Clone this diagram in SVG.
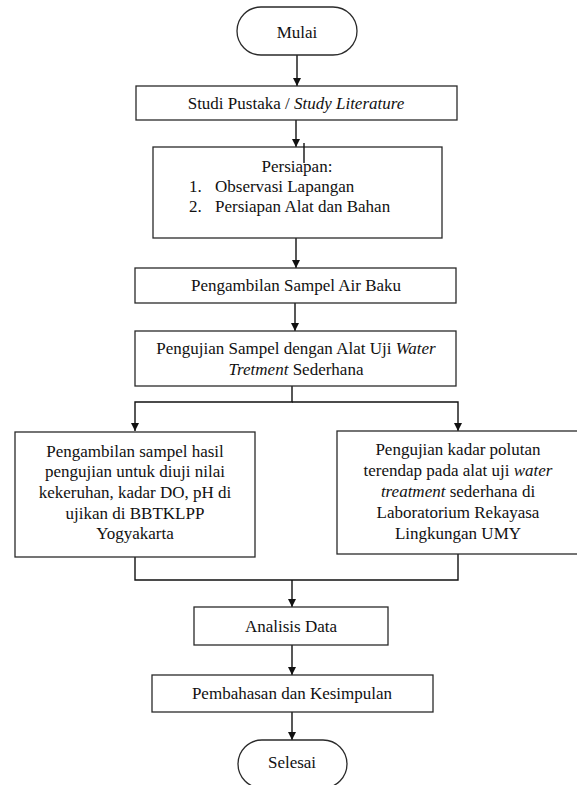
<svg xmlns="http://www.w3.org/2000/svg" width="577" height="785" viewBox="0 0 577 785">
<defs>
<style>
.box{fill:#fff;stroke:#2a2a2a;stroke-width:1.3}
.ln{fill:none;stroke:#111;stroke-width:1.4}
.t{font-family:'Liberation Serif','DejaVu Serif',serif;font-size:17px;fill:#111}
.c{text-anchor:middle}
.i{font-style:italic}
</style>
<marker id="ah" viewBox="0 0 10 10" refX="10" refY="5" markerWidth="8" markerHeight="8" markerUnits="userSpaceOnUse" orient="auto">
<path d="M0,0 L10,5 L0,10 z" fill="#111"/>
</marker>
</defs>
<rect width="577" height="785" fill="#fff"/>
<g id="connectors">
<line class="ln" x1="297" y1="55" x2="297" y2="86" marker-end="url(#ah)"/>
<line class="ln" x1="296" y1="120" x2="296" y2="147" marker-end="url(#ah)"/>
<line class="ln" x1="296" y1="238" x2="296" y2="268" marker-end="url(#ah)"/>
<line class="ln" x1="295" y1="303" x2="295" y2="331" marker-end="url(#ah)"/>
<polyline class="ln" points="292,386 292,402 135,402 135,431" marker-end="url(#ah)"/>
<polyline class="ln" points="292,402 458,402 458,431" marker-end="url(#ah)"/>
<polyline class="ln" points="135,557 135,580 458,580 458,554"/>
<line class="ln" x1="292" y1="580" x2="292" y2="607" marker-end="url(#ah)"/>
<line class="ln" x1="292" y1="645" x2="292" y2="675" marker-end="url(#ah)"/>
<line class="ln" x1="292" y1="712" x2="292" y2="740" marker-end="url(#ah)"/>
</g>
<g class="t" font-family="Liberation Serif, DejaVu Serif, serif">
<g id="mulai">
<rect class="box" x="237" y="7" width="120" height="48" rx="24" ry="24"/>
<text class="c" x="297" y="38">Mulai</text>
</g>
<g id="studi">
<rect class="box" x="136" y="86" width="321" height="34"/>
<text class="c" x="296" y="109">Studi Pustaka / <tspan class="i">Study Literature</tspan></text>
</g>
<g id="persiapan">
<rect class="box" x="153" y="147" width="289" height="91"/>
<line class="ln" x1="304" y1="143" x2="304" y2="163" stroke-width="1"/>
<text class="c" x="297" y="172">Persiapan:</text>
<text x="189" y="192">1.</text>
<text x="215" y="192">Observasi Lapangan</text>
<text x="189" y="212">2.</text>
<text x="215" y="212">Persiapan Alat dan Bahan</text>
</g>
<g id="pengambilan">
<rect class="box" x="135" y="268" width="321" height="35"/>
<text class="c" x="296" y="291">Pengambilan Sampel Air Baku</text>
</g>
<g id="pengujian">
<rect class="box" x="135" y="331" width="321" height="55"/>
<text class="c" x="296" y="354">Pengujian Sampel dengan Alat  Uji <tspan class="i">Water</tspan></text>
<text class="c" x="296" y="375"><tspan class="i">Tretment</tspan> Sederhana</text>
</g>
<g id="hasil">
<rect class="box" x="15" y="432" width="240" height="125"/>
<text class="c" x="135" y="457">Pengambilan sampel hasil</text>
<text class="c" x="135" y="477">pengujian untuk diuji nilai</text>
<text class="c" x="135" y="498">kekeruhan, kadar DO, pH di</text>
<text class="c" x="135" y="519">ujikan di BBTKLPP</text>
<text class="c" x="135" y="539">Yogyakarta</text>
</g>
<g id="polutan">
<rect class="box" x="337" y="431" width="245" height="123"/>
<text class="c" x="458" y="455"> Pengujian kadar polutan</text>
<text class="c" x="458" y="476">terendap pada alat uji <tspan class="i">water</tspan></text>
<text class="c" x="458" y="497"><tspan class="i">treatment</tspan> sederhana di</text>
<text class="c" x="458" y="518">Laboratorium  Rekayasa</text>
<text class="c" x="458" y="539">Lingkungan UMY</text>
</g>
<g id="analisis">
<rect class="box" x="194" y="607" width="194" height="38"/>
<text class="c" x="291" y="632">Analisis Data</text>
</g>
<g id="pembahasan">
<rect class="box" x="152" y="675" width="281" height="37"/>
<text class="c" x="292" y="699">Pembahasan dan Kesimpulan</text>
</g>
<g id="selesai">
<rect class="box" x="238" y="740" width="109" height="48" rx="24" ry="24"/>
<text class="c" x="292" y="768">Selesai</text>
</g>
</g>
</svg>
